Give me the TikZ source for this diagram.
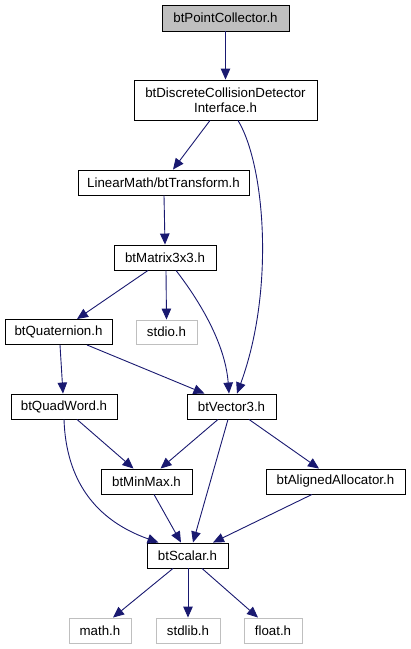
\documentclass[tikz,border=0pt]{standalone}
\usepackage{fontspec}
\setmainfont{Liberation Sans}
\usetikzlibrary{arrows.meta}
\definecolor{edgeblue}{HTML}{191970}
\definecolor{sysgray}{HTML}{BFBFBF}
\begin{document}
\begin{tikzpicture}[x=1pt,y=-1pt,
  box/.style={draw=black, line width=0.9pt, inner sep=0pt, align=center,
    font=\fontsize{13.3}{14.5}\selectfont},
  sysbox/.style={box, draw=sysgray},
  edge/.style={draw=edgeblue, line width=0.9pt, -{Triangle[length=11pt,width=9.5pt]}}]
\useasboundingbox (0,0) rectangle (411,649);
\node[box, fill=sysgray, minimum width=127pt, minimum height=26pt] (PC) at (225.5,18) {btPointCollector.h};
\node[box, minimum width=183pt, minimum height=40pt] (DC) at (225.5,100) {btDiscreteCollisionDetector\\Interface.h};
\node[box, minimum width=171pt, minimum height=25pt] (TR) at (163.5,182.5) {LinearMath/btTransform.h};
\node[box, minimum width=102pt, minimum height=25pt] (MX) at (165,257.5) {btMatrix3x3.h};
\node[box, minimum width=107pt, minimum height=25pt] (QT) at (58.5,332) {btQuaternion.h};
\node[sysbox, minimum width=61pt, minimum height=24pt] (ST) at (166.5,332) {stdio.h};
\node[box, minimum width=106pt, minimum height=25pt] (QW) at (64,406.5) {btQuadWord.h};
\node[box, minimum width=89pt, minimum height=25pt] (V3) at (231.5,406.5) {btVector3.h};
\node[box, minimum width=91pt, minimum height=25pt] (MM) at (146.5,481.5) {btMinMax.h};
\node[box, minimum width=139pt, minimum height=25pt] (AA) at (335.5,481.5) {btAlignedAllocator.h};
\node[box, minimum width=81pt, minimum height=25pt] (SC) at (187.5,555.5) {btScalar.h};
\node[sysbox, minimum width=62pt, minimum height=25pt] (MA) at (100,630.5) {math.h};
\node[sysbox, minimum width=64pt, minimum height=25pt] (SL) at (188,630.5) {stdlib.h};
\node[sysbox, minimum width=58pt, minimum height=25pt] (FL) at (273,630.5) {float.h};

\draw[edge] (PC.south) -- (DC.north);
\draw[edge] ([xshift=-15.5pt]DC.south) -- ([xshift=9.5pt]TR.north);
\draw[edge] ([xshift=12.5pt]DC.south) .. controls (265,165) and (275,290) .. ([xshift=5.5pt]V3.north);
\draw[edge] ([xshift=0.5pt]TR.south) -- (MX.north);
\draw[edge] ([xshift=-17pt]MX.south) -- ([xshift=18.5pt]QT.north);
\draw[edge] ([xshift=1pt]MX.south) -- (ST.north);
\draw[edge] ([xshift=11pt]MX.south) .. controls (195,295) and (225,340) .. ([xshift=-2.5pt]V3.north);
\draw[edge] ([xshift=1.5pt]QT.south) -- ([xshift=-1pt]QW.north);
\draw[edge] ([xshift=28.5pt]QT.south) -- ([xshift=-27pt]V3.north);
\draw[edge] ([xshift=0pt]QW.south) .. controls (66,480) and (95,520) .. ([xshift=-29pt]SC.north);
\draw[edge] ([xshift=13pt]QW.south) -- ([xshift=-13pt]MM.north);
\draw[edge] ([xshift=-13.5pt]V3.south) -- ([xshift=14pt]MM.north);
\draw[edge] ([xshift=-3.5pt]V3.south) -- ([xshift=5.5pt]SC.north);
\draw[edge] ([xshift=17.5pt]V3.south) -- ([xshift=-16.5pt]AA.north);
\draw[edge] ([xshift=7.5pt]MM.south) -- ([xshift=-6.5pt]SC.north);
\draw[edge] ([xshift=-23.5pt]AA.south) -- ([xshift=25.5pt]SC.north);
\draw[edge] ([xshift=-14.5pt]SC.south) -- ([xshift=13pt]MA.north);
\draw[edge] ([xshift=0.5pt]SC.south) -- (SL.north);
\draw[edge] ([xshift=14.5pt]SC.south) -- ([xshift=-15pt]FL.north);
\end{tikzpicture}
\end{document}
